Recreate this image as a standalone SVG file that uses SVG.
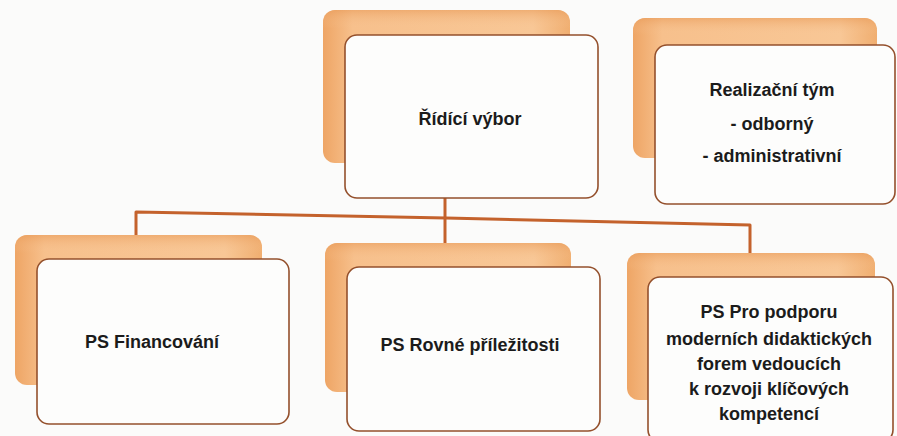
<svg xmlns="http://www.w3.org/2000/svg" width="897" height="436" viewBox="0 0 897 436">
  <defs>
    <linearGradient id="backGrad" x1="0" y1="0" x2="1" y2="0">
      <stop offset="0" stop-color="#eea565"/>
      <stop offset="0.12" stop-color="#f7c08c"/>
      <stop offset="0.85" stop-color="#f8c796"/>
      <stop offset="1" stop-color="#f0ae70"/>
    </linearGradient>
    <linearGradient id="backGradV" x1="0" y1="0" x2="0" y2="1">
      <stop offset="0" stop-color="#e89a58" stop-opacity="0.55"/>
      <stop offset="0.12" stop-color="#f8c796" stop-opacity="0"/>
      <stop offset="1" stop-color="#f8c796" stop-opacity="0"/>
    </linearGradient>
    <style>
      .back { fill: url(#backGrad); }
      .backShade { fill: url(#backGradV); }
      .front { fill: #fdfdfc; stroke: #94502c; stroke-width: 1.6; }
      .lbl { font-family: "Liberation Sans", Arial, sans-serif; font-weight: bold; font-size: 18px; fill: #1b1b1b; text-anchor: middle; }
      .conn { fill: none; stroke: #c4622c; stroke-width: 3; stroke-linejoin: round; }
    </style>
  </defs>
  <rect x="0" y="0" width="897" height="436" fill="#fbfbfa"/>

  <g id="connectors">
    <path class="conn" d="M445,197 V244"/>
    <path class="conn" d="M136,237 V212 L446,218 L750,225 V253"/>
  </g>

  <g id="ridici-vybor">
    <rect class="back" x="323" y="10" width="247" height="153" rx="12"/>
    <rect class="backShade" x="323" y="10" width="247" height="153" rx="12"/>
    <rect class="front" x="345" y="35" width="253" height="163" rx="12"/>
    <text class="lbl" x="470" y="125">Řídící výbor</text>
  </g>

  <g id="realizacni-tym">
    <rect class="back" x="633" y="18" width="244" height="140" rx="12"/>
    <rect class="backShade" x="633" y="18" width="244" height="140" rx="12"/>
    <rect class="front" x="655" y="45" width="240" height="159" rx="12"/>
    <text class="lbl" x="772" y="96">Realizační tým</text>
    <text class="lbl" x="772" y="130">- odborný</text>
    <text class="lbl" x="772" y="162">- administrativní</text>
  </g>

  <g id="ps-financovani">
    <rect class="back" x="15" y="235" width="247" height="150" rx="12"/>
    <rect class="backShade" x="15" y="235" width="247" height="150" rx="12"/>
    <rect class="front" x="37" y="259" width="252" height="165" rx="12"/>
    <text class="lbl" x="152" y="348">PS Financování</text>
  </g>

  <g id="ps-rovne-prilezitosti">
    <rect class="back" x="325" y="243" width="246" height="149" rx="12"/>
    <rect class="backShade" x="325" y="243" width="246" height="149" rx="12"/>
    <rect class="front" x="347" y="267" width="253" height="164" rx="12"/>
    <text class="lbl" x="470" y="351">PS Rovné příležitosti</text>
  </g>

  <g id="ps-pro-podporu">
    <rect class="back" x="627" y="253" width="248" height="147" rx="12"/>
    <rect class="backShade" x="627" y="253" width="248" height="147" rx="12"/>
    <rect class="front" x="648" y="277" width="245" height="165" rx="12"/>
    <text class="lbl" x="769" y="318">PS Pro podporu</text>
    <text class="lbl" x="769" y="345">moderních didaktických</text>
    <text class="lbl" x="769" y="370">forem vedoucích</text>
    <text class="lbl" x="769" y="395">k rozvoji klíčových</text>
    <text class="lbl" x="769" y="420">kompetencí</text>
  </g>
</svg>
